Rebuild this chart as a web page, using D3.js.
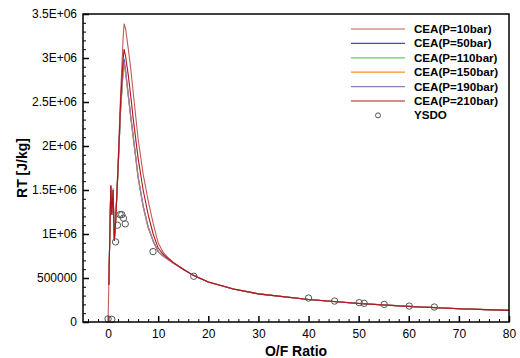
<!DOCTYPE html>
<html>
<head>
<meta charset="utf-8">
<script src="https://cdn.jsdelivr.net/npm/d3@7"></script>
<style>
  body { margin: 0; background: #fff; }
  svg { display: block; font-family: Arial, "Liberation Sans", sans-serif; }
</style>
</head>
<body>
<svg id="chart" width="520" height="358"></svg>
<script>
// O/F grid shared by the CEA curves
const ofRatio = [0, 0.55, 0.75, 1.0, 1.25, 1.5, 2, 2.5, 3, 3.2, 3.5, 4, 4.5, 5, 6, 7, 8, 9, 10, 11, 12, 13, 15, 17, 20, 25, 30, 40, 50, 60, 70, 80];

// RT [J/kg] per pressure (x1e6)
const rt10  = [0, 1.53, 1.25, 1.52, 0.95, 1.15, 1.80, 2.58, 3.22, 3.39, 3.33, 3.12, 2.89, 2.62, 2.08, 1.68, 1.38, 1.12, 0.90, 0.79, 0.73, 0.68, 0.60, 0.53, 0.455, 0.375, 0.32, 0.255, 0.212, 0.178, 0.152, 0.132];
const rt50  = [0.42, 1.55, 1.22, 1.50, 0.93, 1.14, 1.74, 2.42, 2.88, 2.99, 2.86, 2.60, 2.35, 2.12, 1.65, 1.32, 1.08, 0.92, 0.80, 0.75, 0.71, 0.67, 0.60, 0.53, 0.455, 0.375, 0.32, 0.255, 0.21, 0.177, 0.15, 0.132];
const rt110 = [0.42, 1.54, 1.22, 1.49, 0.93, 1.13, 1.73, 2.40, 2.82, 2.92, 2.82, 2.58, 2.33, 2.10, 1.64, 1.31, 1.07, 0.92, 0.80, 0.75, 0.71, 0.67, 0.60, 0.53, 0.455, 0.375, 0.32, 0.255, 0.21, 0.177, 0.15, 0.132];
const rt150 = [0.42, 1.54, 1.22, 1.49, 0.93, 1.13, 1.73, 2.41, 2.84, 2.94, 2.83, 2.59, 2.34, 2.11, 1.64, 1.31, 1.07, 0.92, 0.80, 0.75, 0.71, 0.67, 0.60, 0.53, 0.455, 0.375, 0.32, 0.255, 0.21, 0.177, 0.15, 0.132];
const rt190 = [0.42, 1.55, 1.22, 1.50, 0.93, 1.14, 1.74, 2.42, 2.86, 2.96, 2.85, 2.60, 2.35, 2.12, 1.65, 1.32, 1.08, 0.92, 0.80, 0.75, 0.71, 0.67, 0.60, 0.53, 0.455, 0.375, 0.32, 0.255, 0.21, 0.177, 0.15, 0.132];
const rt210 = [0.42, 1.55, 1.22, 1.50, 0.92, 1.12, 1.77, 2.50, 2.98, 3.10, 3.02, 2.82, 2.58, 2.32, 1.86, 1.50, 1.22, 1.00, 0.84, 0.77, 0.72, 0.675, 0.60, 0.53, 0.455, 0.375, 0.32, 0.255, 0.211, 0.177, 0.151, 0.132];

const seriesNames  = ['CEA(P=10bar)', 'CEA(P=50bar)', 'CEA(P=110bar)', 'CEA(P=150bar)', 'CEA(P=190bar)', 'CEA(P=210bar)'];
const seriesValues = [rt10, rt50, rt110, rt150, rt190, rt210];
const seriesColors = ['#c25a5a', '#4444c8', '#62d062', '#ff8c1e', '#9a78b8', '#b01616'];

// YSDO points
const ysdoOF = [0, 0.75, 1.5, 1.87, 2.4, 2.73, 3.07, 3.43, 8.97, 17.1, 40.0, 45.2, 50.1, 51.1, 55.1, 60.1, 65.1];
const ysdoRT = [0.035, 0.03, 0.91, 1.10, 1.22, 1.22, 1.18, 1.115, 0.80, 0.52, 0.272, 0.238, 0.22, 0.212, 0.20, 0.181, 0.17];

const xTicks = [0, 10, 20, 30, 40, 50, 60, 70, 80];
const yTicks = [0, 5e5, 1e6, 1.5e6, 2e6, 2.5e6, 3e6, 3.5e6];

const svg = d3.select('#chart');
const m = { left: 83, right: 509, top: 14, bottom: 322 };

const x = d3.scaleLinear().domain([-5, 80]).range([m.left, m.right]);
const y = d3.scaleLinear().domain([0, 3.5e6]).range([m.bottom, m.top]);

const fmtY = v => v === 0 ? '0' : (v < 1e6 ? String(v) : (v / 1e6) + 'E+06');

// minor ticks
svg.append('g')
  .attr('transform', `translate(0,${m.bottom})`)
  .call(d3.axisBottom(x).tickValues(d3.range(-4, 80, 2).filter(v => v % 10 !== 0)).tickSize(-3).tickFormat(''))
  .call(g => g.select('.domain').remove())
  .call(g => g.selectAll('line').attr('stroke', '#000'));
svg.append('g')
  .attr('transform', `translate(${m.left},0)`)
  .call(d3.axisLeft(y).tickValues(d3.range(1e5, 3.5e6, 1e5).filter(v => Math.round(v / 1e5) % 5 !== 0)).tickSize(-3).tickFormat(''))
  .call(g => g.select('.domain').remove())
  .call(g => g.selectAll('line').attr('stroke', '#000'));

// major ticks
svg.append('g')
  .attr('transform', `translate(0,${m.bottom})`)
  .call(d3.axisBottom(x).tickValues(xTicks).tickSizeInner(-6).tickSizeOuter(0).tickPadding(7))
  .call(g => g.select('.domain').remove())
  .call(g => g.selectAll('line').attr('stroke', '#000').attr('stroke-width', 1.5))
  .call(g => g.selectAll('text').attr('font-size', 12).attr('fill', '#000').attr('font-family', 'Arial, "Liberation Sans", sans-serif'));
svg.append('g')
  .attr('transform', `translate(${m.left},0)`)
  .call(d3.axisLeft(y).tickValues(yTicks).tickFormat(fmtY).tickSizeInner(-6).tickSizeOuter(0).tickPadding(6))
  .call(g => g.select('.domain').remove())
  .call(g => g.selectAll('line').attr('stroke', '#000').attr('stroke-width', 1.5))
  .call(g => g.selectAll('text').attr('font-size', 12).attr('fill', '#000').attr('font-family', 'Arial, "Liberation Sans", sans-serif'));

// curves
const line = d3.line().x(d => x(d[0])).y(d => y(d[1] * 1e6));
seriesValues.forEach((vals, i) => {
  const pts = ofRatio.map((o, j) => [i === 0 || j > 0 ? o : 0.15, vals[j]]);
  svg.append('path')
    .datum(pts)
    .attr('d', line)
    .attr('fill', 'none')
    .attr('stroke', seriesColors[i])
    .attr('stroke-width', 1.1);
});

// YSDO circles
svg.append('g').selectAll('circle')
  .data(ysdoOF.map((o, i) => [o, ysdoRT[i]]))
  .join('circle')
  .attr('cx', d => x(d[0]))
  .attr('cy', d => y(d[1] * 1e6))
  .attr('r', 3.2)
  .attr('fill', 'none')
  .attr('stroke', '#555')
  .attr('stroke-width', 1);

// frame
svg.append('rect')
  .attr('x', m.left).attr('y', m.top)
  .attr('width', m.right - m.left).attr('height', m.bottom - m.top)
  .attr('fill', 'none').attr('stroke', '#000').attr('stroke-width', 1.5);

// legend
const legend = svg.append('g').attr('font-size', 11.6).attr('font-weight', 'bold');
seriesNames.forEach((name, i) => {
  const ly = 29 + i * 14.4;
  legend.append('line').attr('x1', 351).attr('x2', 405).attr('y1', ly).attr('y2', ly)
    .attr('stroke', seriesColors[i]).attr('stroke-width', 1.2);
  legend.append('text').attr('x', 414).attr('y', ly + 4).text(name);
});
const lyS = 29 + 6 * 14.4;
legend.append('circle').attr('cx', 378).attr('cy', lyS).attr('r', 2.5)
  .attr('fill', 'none').attr('stroke', '#555');
legend.append('text').attr('x', 414).attr('y', lyS + 4).text('YSDO');

// axis titles
svg.append('text')
  .attr('x', (m.left + m.right) / 2).attr('y', 356)
  .attr('text-anchor', 'middle').attr('font-size', 14).attr('font-weight', 'bold')
  .text('O/F Ratio');
svg.append('text')
  .attr('transform', `translate(27,${(m.top + m.bottom) / 2}) rotate(-90)`)
  .attr('text-anchor', 'middle').attr('font-size', 14).attr('font-weight', 'bold')
  .text('RT [J/kg]');
</script>
</body>
</html>
